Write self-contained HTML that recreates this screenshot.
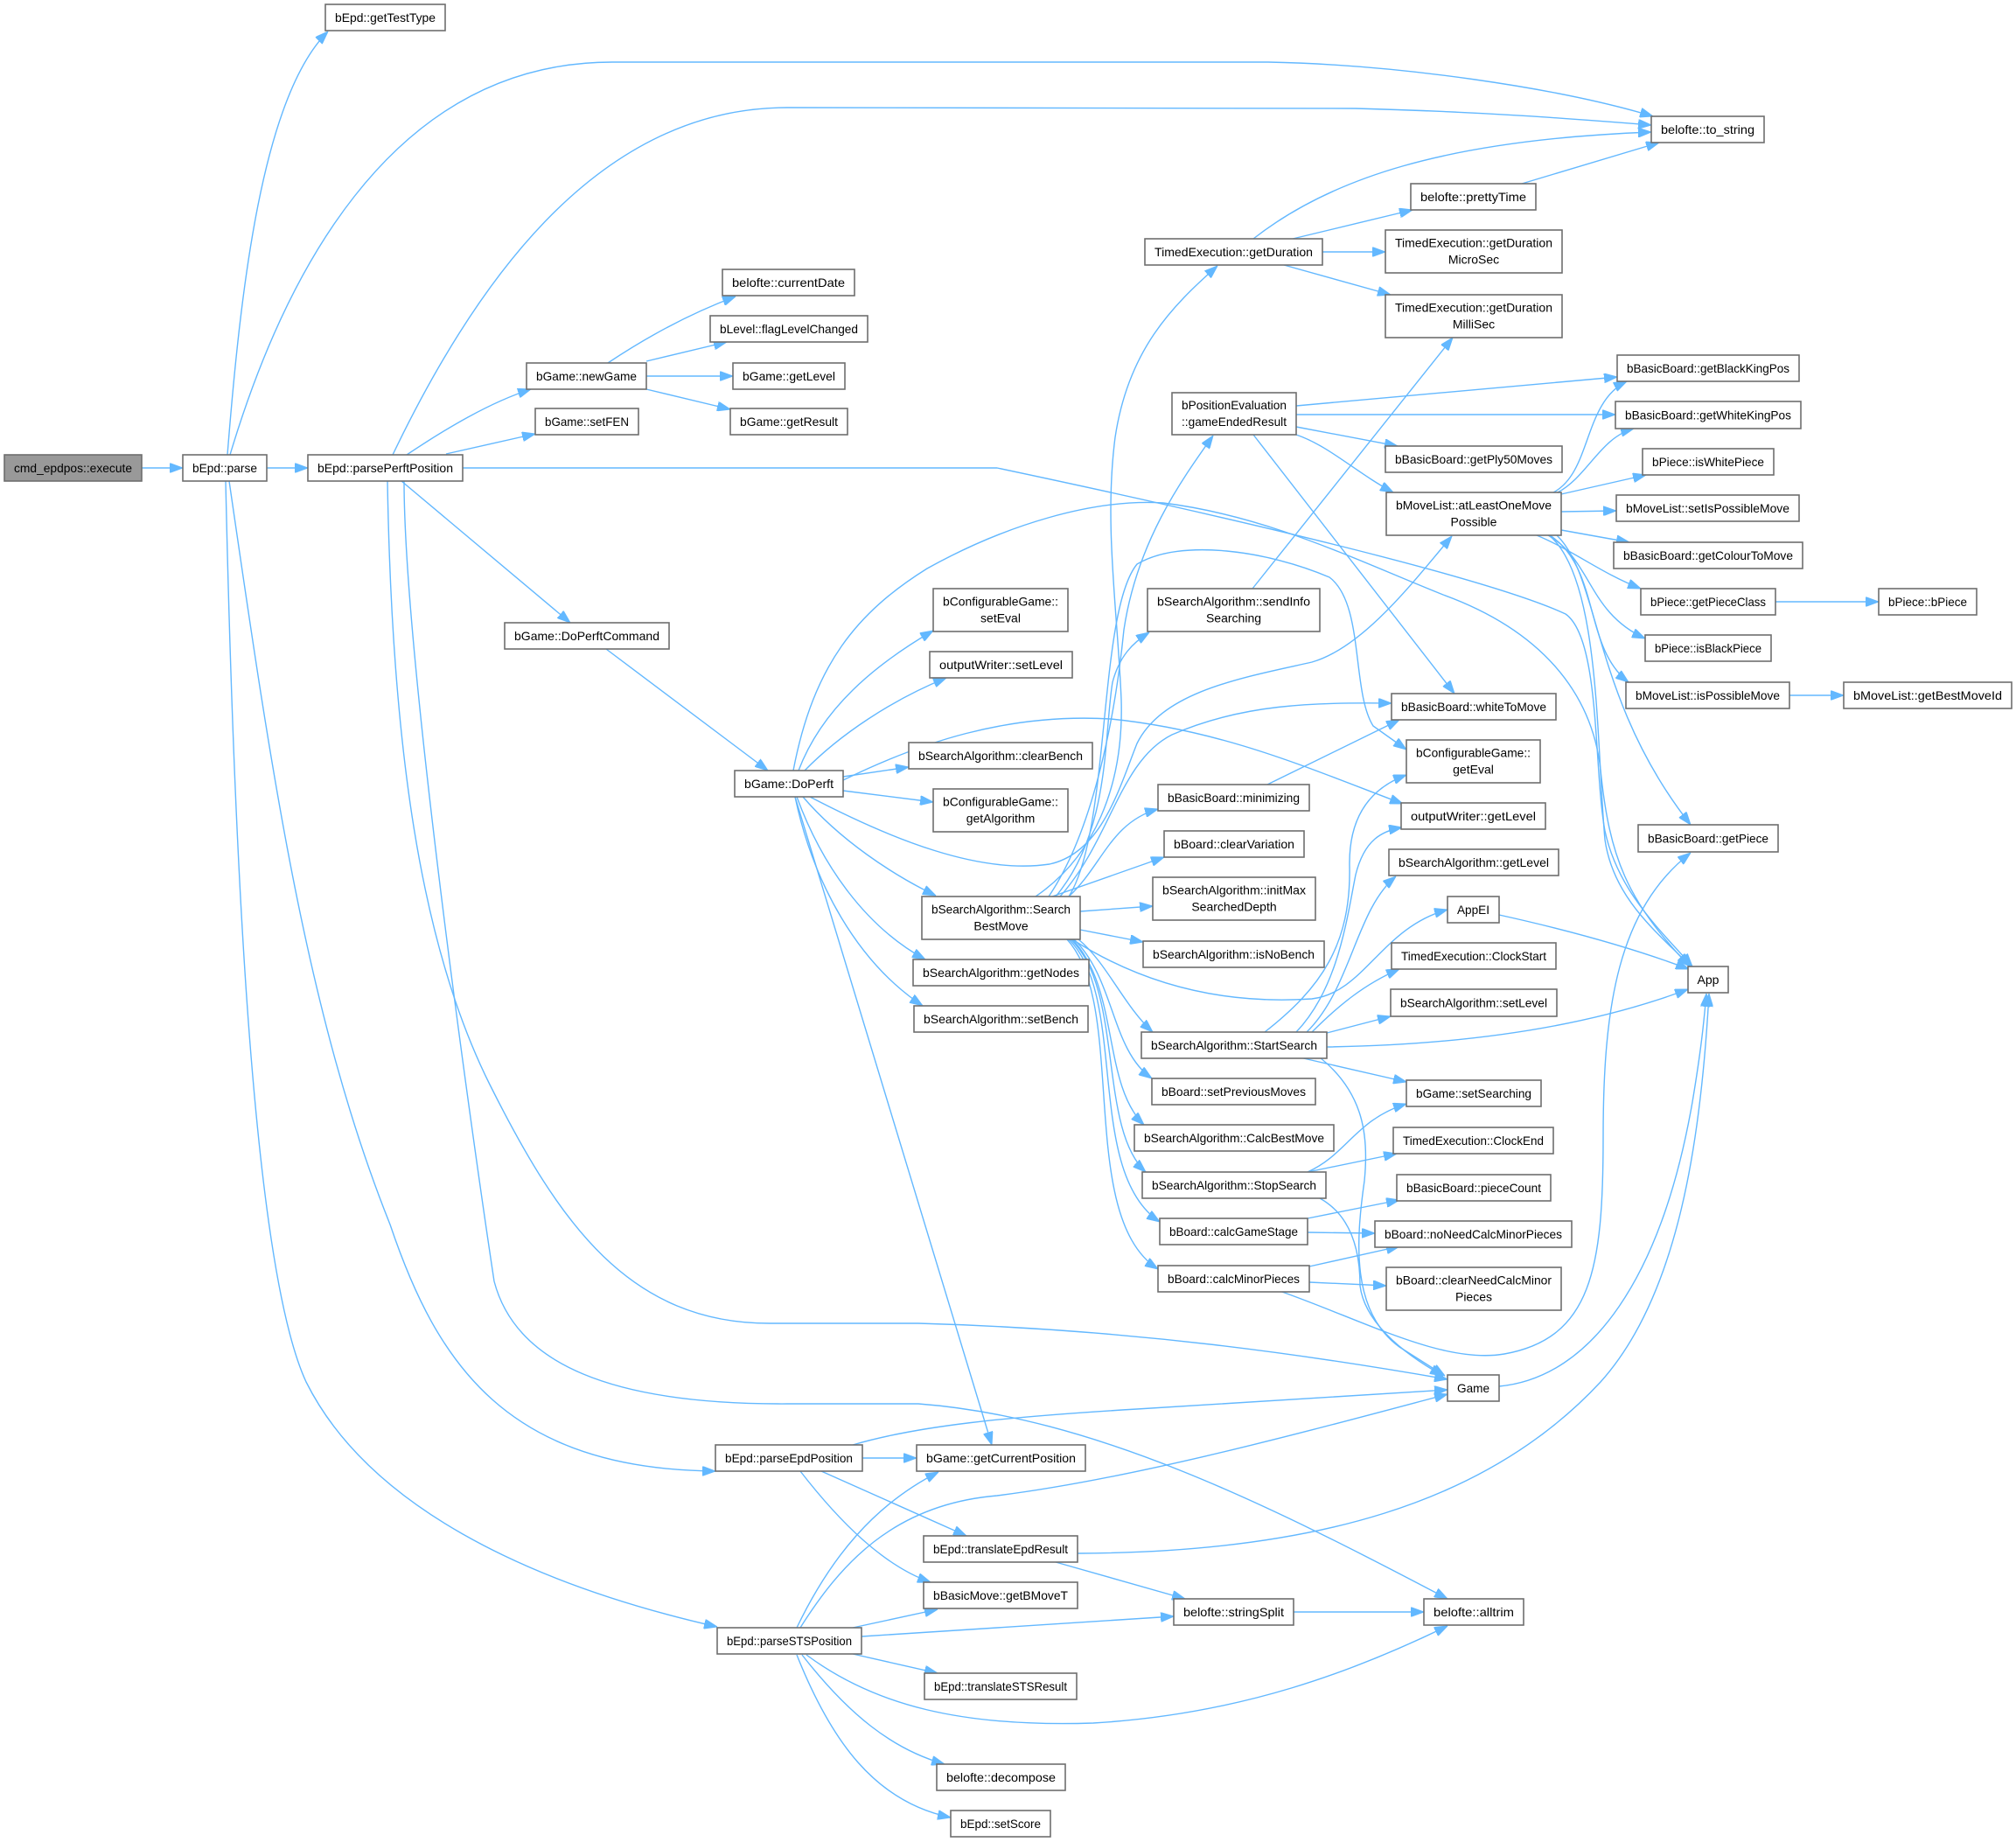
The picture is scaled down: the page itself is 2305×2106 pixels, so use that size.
<!DOCTYPE html>
<html><head><meta charset="utf-8"><style>
html,body{margin:0;padding:0;background:#fff;}
svg{display:block;}
.n rect{fill:#fff;stroke:#6e6e6e;stroke-width:1.6;}
.n text{font-family:"Liberation Sans",sans-serif;font-size:14px;fill:#000;text-anchor:middle;}
.e path{fill:none;stroke:#63b8ff;stroke-width:1.4;}
</style></head><body>
<svg width="2305" height="2106" viewBox="0 0 2305 2106" xmlns="http://www.w3.org/2000/svg">
<defs><marker id="a" viewBox="0 0 15 11" refX="15" refY="5.5" markerWidth="15" markerHeight="11" markerUnits="userSpaceOnUse" orient="auto"><path d="M0,0L15,5.5L0,11z" fill="#63b8ff" stroke="#63b8ff" stroke-width="1"/></marker></defs>
<rect width="2305" height="2106" fill="#fff"/>
<g class="e" marker-end="url(#a)">
<path marker-end="url(#a)" d="M162,535 L209,535"/>
<path marker-end="url(#a)" d="M260,520 C275,330 300,110 375,36"/>
<path marker-end="url(#a)" d="M263,520 C320,330 440,71 700,71 L1450,71 C1600,74 1780,100 1890,133"/>
<path marker-end="url(#a)" d="M305,535 L352,535"/>
<path marker-end="url(#a)" d="M262,550 C310,880 350,1160 446,1400 C500,1560 580,1680 818,1682"/>
<path marker-end="url(#a)" d="M258,550 C268,1000 290,1450 350,1580 C420,1720 600,1810 820,1860"/>
<path marker-end="url(#a)" d="M449,520 C540,330 680,123 900,123 L1550,124 C1700,128 1800,136 1888,143"/>
<path marker-end="url(#a)" d="M465,520 C510,490 560,460 607,445"/>
<path marker-end="url(#a)" d="M510,519 L612,496"/>
<path marker-end="url(#a)" d="M529,535 L1140,535 C1400,590 1700,660 1790,702 C1830,730 1822,880 1835,950 C1850,1020 1900,1065 1935,1105"/>
<path marker-end="url(#a)" d="M459,550 L652,712"/>
<path marker-end="url(#a)" d="M443,550 C448,850 480,1080 560,1240 C640,1400 720,1513 880,1513 L1050,1513 C1300,1520 1500,1550 1655,1577"/>
<path marker-end="url(#a)" d="M462,550 C462,750 540,1300 565,1465 C590,1560 700,1606 900,1605 L1050,1605 C1250,1620 1450,1720 1655,1828"/>
<path marker-end="url(#a)" d="M695,415 C740,385 790,358 841,339"/>
<path marker-end="url(#a)" d="M739,413 L831,391"/>
<path marker-end="url(#a)" d="M739,430 L838,430"/>
<path marker-end="url(#a)" d="M739,445 L835,468"/>
<path marker-end="url(#a)" d="M693,742 L878,881"/>
<path marker-end="url(#a)" d="M907,881 C930,760 980,700 1060,650 C1150,600 1250,570 1330,575 C1450,590 1550,640 1650,680 C1760,720 1820,790 1830,880 C1840,980 1860,1030 1932,1105"/>
<path marker-end="url(#a)" d="M913,881 C940,810 1000,760 1067,721"/>
<path marker-end="url(#a)" d="M920,881 C960,840 1020,800 1082,775"/>
<path marker-end="url(#a)" d="M964,888 L1039,877"/>
<path marker-end="url(#a)" d="M964,904 L1067,917"/>
<path marker-end="url(#a)" d="M964,892 C1050,850 1150,815 1270,822 C1400,835 1500,880 1604,919"/>
<path marker-end="url(#a)" d="M926,911 C1020,960 1120,1000 1200,988 C1260,975 1280,900 1300,850 C1330,790 1420,775 1500,757 C1560,740 1620,660 1660,613"/>
<path marker-end="url(#a)" d="M918,911 C960,960 1020,1000 1070,1024"/>
<path marker-end="url(#a)" d="M911,911 C940,990 990,1060 1058,1097"/>
<path marker-end="url(#a)" d="M909,911 C930,1010 980,1100 1055,1150"/>
<path marker-end="url(#a)" d="M909,911 L1134,1652"/>
<path marker-end="url(#a)" d="M1433,273 C1520,205 1650,160 1888,151"/>
<path marker-end="url(#a)" d="M1740,210 L1897,163"/>
<path marker-end="url(#a)" d="M1478,273 L1615,240"/>
<path marker-end="url(#a)" d="M1512,288 L1584,288"/>
<path marker-end="url(#a)" d="M1468,303 L1590,337"/>
<path marker-end="url(#a)" d="M1432,673 L1661,386"/>
<path marker-end="url(#a)" d="M1482,464 L1849,431"/>
<path marker-end="url(#a)" d="M1482,474 L1847,474"/>
<path marker-end="url(#a)" d="M1482,488 L1598,510"/>
<path marker-end="url(#a)" d="M1482,497 C1520,510 1550,540 1593,563"/>
<path marker-end="url(#a)" d="M1433,497 L1663,793"/>
<path marker-end="url(#a)" d="M1776,563 C1820,540 1810,460 1860,436"/>
<path marker-end="url(#a)" d="M1781,563 C1815,545 1830,500 1868,490"/>
<path marker-end="url(#a)" d="M1785,565 L1882,543"/>
<path marker-end="url(#a)" d="M1785,585 L1848,584"/>
<path marker-end="url(#a)" d="M1785,606 L1863,620"/>
<path marker-end="url(#a)" d="M1757,612 C1800,630 1830,655 1876,673"/>
<path marker-end="url(#a)" d="M1770,612 C1820,640 1815,700 1881,730"/>
<path marker-end="url(#a)" d="M1772,612 C1830,650 1810,740 1862,780"/>
<path marker-end="url(#a)" d="M1780,612 C1830,660 1820,800 1933,943"/>
<path marker-end="url(#a)" d="M1771,612 C1830,660 1825,850 1835,960 C1845,1030 1900,1070 1933,1105"/>
<path marker-end="url(#a)" d="M2030,688 L2148,688"/>
<path marker-end="url(#a)" d="M2046,795 L2108,795"/>
<path marker-end="url(#a)" d="M1714,1046 C1800,1065 1870,1085 1931,1108"/>
<path marker-end="url(#a)" d="M1714,1585 C1820,1575 1900,1460 1935,1260 C1945,1200 1948,1170 1951,1136"/>
<path marker-end="url(#a)" d="M1232,1776 C1500,1775 1700,1720 1830,1580 C1920,1480 1945,1300 1954,1136"/>
<path marker-end="url(#a)" d="M1517,1197 C1650,1195 1800,1180 1930,1131"/>
<path marker-end="url(#a)" d="M1509,1209 C1560,1250 1565,1300 1560,1350 C1550,1420 1545,1500 1600,1540 L1652,1573"/>
<path marker-end="url(#a)" d="M1509,1370 C1545,1390 1555,1430 1555,1470 C1560,1510 1600,1545 1650,1573"/>
<path marker-end="url(#a)" d="M975,1652 C1050,1630 1150,1620 1300,1611 L1655,1589"/>
<path marker-end="url(#a)" d="M915,1861 C960,1790 1020,1720 1140,1710 C1300,1690 1500,1635 1655,1594"/>
<path marker-end="url(#a)" d="M986,1667 L1048,1667"/>
<path marker-end="url(#a)" d="M939,1682 L1105,1756"/>
<path marker-end="url(#a)" d="M915,1682 C960,1740 1010,1790 1064,1809"/>
<path marker-end="url(#a)" d="M911,1861 C950,1780 1000,1720 1073,1683"/>
<path marker-end="url(#a)" d="M975,1861 L1072,1840"/>
<path marker-end="url(#a)" d="M985,1871 L1342,1848"/>
<path marker-end="url(#a)" d="M975,1891 L1072,1913"/>
<path marker-end="url(#a)" d="M922,1892 C1000,1950 1100,1975 1250,1970 C1420,1960 1550,1910 1655,1859"/>
<path marker-end="url(#a)" d="M917,1892 C970,1960 1020,2000 1080,2017"/>
<path marker-end="url(#a)" d="M911,1892 C950,1990 1000,2060 1087,2078"/>
<path marker-end="url(#a)" d="M1207,1786 L1355,1828"/>
<path marker-end="url(#a)" d="M1479,1843 L1628,1843"/>
<path marker-end="url(#a)" d="M1184,1025 C1250,980 1285,900 1282,800 C1278,700 1262,600 1275,500 C1290,400 1340,350 1392,304"/>
<path marker-end="url(#a)" d="M1199,1025 C1250,950 1275,820 1285,720 C1300,620 1350,550 1387,498"/>
<path marker-end="url(#a)" d="M1207,1025 C1270,950 1262,840 1272,780 C1280,750 1295,735 1314,723"/>
<path marker-end="url(#a)" d="M1222,1025 C1270,950 1255,700 1300,645 C1350,615 1450,630 1520,660 C1560,690 1545,790 1570,830 L1608,857"/>
<path marker-end="url(#a)" d="M1212,1025 C1270,960 1280,870 1340,840 C1420,805 1500,803 1591,804"/>
<path marker-end="url(#a)" d="M1222,1025 C1260,990 1270,940 1324,925"/>
<path marker-end="url(#a)" d="M1203,1025 L1331,980"/>
<path marker-end="url(#a)" d="M1235,1042 L1318,1036"/>
<path marker-end="url(#a)" d="M1235,1063 L1307,1077"/>
<path marker-end="url(#a)" d="M1226,1074 C1290,1115 1380,1150 1500,1142 C1560,1135 1580,1060 1655,1040"/>
<path marker-end="url(#a)" d="M1233,1074 C1265,1100 1285,1150 1318,1180"/>
<path marker-end="url(#a)" d="M1228,1074 C1275,1120 1270,1200 1317,1233"/>
<path marker-end="url(#a)" d="M1226,1074 C1280,1130 1260,1240 1308,1286"/>
<path marker-end="url(#a)" d="M1224,1074 C1285,1130 1255,1290 1310,1340"/>
<path marker-end="url(#a)" d="M1222,1074 C1290,1140 1240,1340 1326,1397"/>
<path marker-end="url(#a)" d="M1220,1074 C1290,1150 1230,1390 1324,1451"/>
<path marker-end="url(#a)" d="M1449,897 L1600,823"/>
<path marker-end="url(#a)" d="M1446,1180 C1510,1130 1545,1080 1543,990 C1542,930 1570,900 1608,886"/>
<path marker-end="url(#a)" d="M1482,1180 C1530,1130 1540,1050 1550,1000 C1560,960 1580,950 1603,946"/>
<path marker-end="url(#a)" d="M1494,1180 C1545,1130 1550,1040 1596,1002"/>
<path marker-end="url(#a)" d="M1500,1180 C1530,1150 1560,1125 1600,1108"/>
<path marker-end="url(#a)" d="M1517,1181 L1590,1162"/>
<path marker-end="url(#a)" d="M1486,1209 L1608,1237"/>
<path marker-end="url(#a)" d="M1495,1340 C1540,1320 1550,1280 1608,1262"/>
<path marker-end="url(#a)" d="M1495,1340 L1597,1319"/>
<path marker-end="url(#a)" d="M1495,1393 L1600,1372"/>
<path marker-end="url(#a)" d="M1495,1409 L1572,1410"/>
<path marker-end="url(#a)" d="M1497,1448 L1600,1425"/>
<path marker-end="url(#a)" d="M1497,1466 L1585,1470"/>
<path marker-end="url(#a)" d="M1463,1476 C1560,1510 1650,1560 1720,1548 C1820,1530 1833,1450 1833,1300 C1833,1150 1850,1040 1933,975"/>
</g>
<g class="n">
<rect x="5" y="520" width="157" height="30" style="fill:#999999"/><text x="83.5" y="540" textLength="135" lengthAdjust="spacingAndGlyphs">cmd_epdpos::execute</text>
<rect x="209" y="520" width="96" height="30"/><text x="257" y="540" textLength="74" lengthAdjust="spacingAndGlyphs">bEpd::parse</text>
<rect x="352" y="520" width="177" height="30"/><text x="440.5" y="540" textLength="155" lengthAdjust="spacingAndGlyphs">bEpd::parsePerftPosition</text>
<rect x="372" y="5" width="137" height="30"/><text x="440.5" y="25" textLength="115" lengthAdjust="spacingAndGlyphs">bEpd::getTestType</text>
<rect x="1888" y="133" width="129" height="30"/><text x="1952.5" y="153" textLength="107" lengthAdjust="spacingAndGlyphs">belofte::to_string</text>
<rect x="826" y="308" width="151" height="30"/><text x="901.5" y="328" textLength="129" lengthAdjust="spacingAndGlyphs">belofte::currentDate</text>
<rect x="812" y="361" width="180" height="30"/><text x="902" y="381" textLength="158" lengthAdjust="spacingAndGlyphs">bLevel::flagLevelChanged</text>
<rect x="602" y="415" width="137" height="30"/><text x="670.5" y="435" textLength="115" lengthAdjust="spacingAndGlyphs">bGame::newGame</text>
<rect x="838" y="415" width="128" height="30"/><text x="902" y="435" textLength="106" lengthAdjust="spacingAndGlyphs">bGame::getLevel</text>
<rect x="835" y="467" width="134" height="30"/><text x="902" y="487" textLength="112" lengthAdjust="spacingAndGlyphs">bGame::getResult</text>
<rect x="612" y="467" width="118" height="30"/><text x="671" y="487" textLength="96" lengthAdjust="spacingAndGlyphs">bGame::setFEN</text>
<rect x="577" y="712" width="188" height="30"/><text x="671" y="732" textLength="166" lengthAdjust="spacingAndGlyphs">bGame::DoPerftCommand</text>
<rect x="840" y="881" width="124" height="30"/><text x="902" y="901" textLength="102" lengthAdjust="spacingAndGlyphs">bGame::DoPerft</text>
<rect x="1309" y="273" width="203" height="30"/><text x="1410.5" y="293" textLength="181" lengthAdjust="spacingAndGlyphs">TimedExecution::getDuration</text>
<rect x="1613" y="210" width="143" height="30"/><text x="1684.5" y="230" textLength="121" lengthAdjust="spacingAndGlyphs">belofte::prettyTime</text>
<rect x="1584" y="263" width="202" height="49"/><text x="1685" y="282.5" textLength="180" lengthAdjust="spacingAndGlyphs">TimedExecution::getDuration</text><text x="1685" y="301.5">MicroSec</text>
<rect x="1584" y="337" width="202" height="49"/><text x="1685" y="356.5" textLength="180" lengthAdjust="spacingAndGlyphs">TimedExecution::getDuration</text><text x="1685" y="375.5">MilliSec</text>
<rect x="1340" y="449" width="142" height="48"/><text x="1411" y="468" textLength="120" lengthAdjust="spacingAndGlyphs">bPositionEvaluation</text><text x="1411" y="487" textLength="120" lengthAdjust="spacingAndGlyphs">::gameEndedResult</text>
<rect x="1849" y="406" width="208" height="30"/><text x="1953" y="426" textLength="186" lengthAdjust="spacingAndGlyphs">bBasicBoard::getBlackKingPos</text>
<rect x="1847" y="459" width="212" height="31"/><text x="1953" y="479.5" textLength="190" lengthAdjust="spacingAndGlyphs">bBasicBoard::getWhiteKingPos</text>
<rect x="1584" y="510" width="202" height="30"/><text x="1685" y="530" textLength="180" lengthAdjust="spacingAndGlyphs">bBasicBoard::getPly50Moves</text>
<rect x="1585" y="563" width="200" height="49"/><text x="1685" y="582.5" textLength="178" lengthAdjust="spacingAndGlyphs">bMoveList::atLeastOneMove</text><text x="1685" y="601.5">Possible</text>
<rect x="1878" y="513" width="150" height="30"/><text x="1953" y="533" textLength="128" lengthAdjust="spacingAndGlyphs">bPiece::isWhitePiece</text>
<rect x="1848" y="566" width="209" height="30"/><text x="1952.5" y="586" textLength="187" lengthAdjust="spacingAndGlyphs">bMoveList::setIsPossibleMove</text>
<rect x="1845" y="620" width="216" height="30"/><text x="1953" y="640" textLength="194" lengthAdjust="spacingAndGlyphs">bBasicBoard::getColourToMove</text>
<rect x="1876" y="673" width="154" height="30"/><text x="1953" y="693" textLength="132" lengthAdjust="spacingAndGlyphs">bPiece::getPieceClass</text>
<rect x="2148" y="673" width="112" height="30"/><text x="2204" y="693" textLength="90" lengthAdjust="spacingAndGlyphs">bPiece::bPiece</text>
<rect x="1881" y="726" width="144" height="30"/><text x="1953" y="746" textLength="122" lengthAdjust="spacingAndGlyphs">bPiece::isBlackPiece</text>
<rect x="1859" y="780" width="187" height="30"/><text x="1952.5" y="800" textLength="165" lengthAdjust="spacingAndGlyphs">bMoveList::isPossibleMove</text>
<rect x="2108" y="780" width="192" height="30"/><text x="2204" y="800" textLength="170" lengthAdjust="spacingAndGlyphs">bMoveList::getBestMoveId</text>
<rect x="1873" y="943" width="160" height="31"/><text x="1953" y="963.5" textLength="138" lengthAdjust="spacingAndGlyphs">bBasicBoard::getPiece</text>
<rect x="1930" y="1105" width="46" height="30"/><text x="1953" y="1125" textLength="25" lengthAdjust="spacingAndGlyphs">App</text>
<rect x="1067" y="673" width="154" height="49"/><text x="1144" y="692.5" textLength="132" lengthAdjust="spacingAndGlyphs">bConfigurableGame::</text><text x="1144" y="711.5">setEval</text>
<rect x="1312" y="673" width="197" height="49"/><text x="1410.5" y="692.5" textLength="175" lengthAdjust="spacingAndGlyphs">bSearchAlgorithm::sendInfo</text><text x="1410.5" y="711.5">Searching</text>
<rect x="1063" y="745" width="163" height="30"/><text x="1144.5" y="765" textLength="141" lengthAdjust="spacingAndGlyphs">outputWriter::setLevel</text>
<rect x="1591" y="793" width="188" height="30"/><text x="1685" y="813" textLength="166" lengthAdjust="spacingAndGlyphs">bBasicBoard::whiteToMove</text>
<rect x="1039" y="849" width="210" height="30"/><text x="1144" y="869" textLength="188" lengthAdjust="spacingAndGlyphs">bSearchAlgorithm::clearBench</text>
<rect x="1067" y="902" width="154" height="49"/><text x="1144" y="921.5" textLength="132" lengthAdjust="spacingAndGlyphs">bConfigurableGame::</text><text x="1144" y="940.5">getAlgorithm</text>
<rect x="1608" y="846" width="153" height="49"/><text x="1684.5" y="865.5" textLength="131" lengthAdjust="spacingAndGlyphs">bConfigurableGame::</text><text x="1684.5" y="884.5">getEval</text>
<rect x="1324" y="897" width="173" height="30"/><text x="1410.5" y="917" textLength="151" lengthAdjust="spacingAndGlyphs">bBasicBoard::minimizing</text>
<rect x="1602" y="918" width="165" height="30"/><text x="1684.5" y="938" textLength="143" lengthAdjust="spacingAndGlyphs">outputWriter::getLevel</text>
<rect x="1331" y="950" width="160" height="30"/><text x="1411" y="970" textLength="138" lengthAdjust="spacingAndGlyphs">bBoard::clearVariation</text>
<rect x="1588" y="971" width="194" height="30"/><text x="1685" y="991" textLength="172" lengthAdjust="spacingAndGlyphs">bSearchAlgorithm::getLevel</text>
<rect x="1318" y="1003" width="186" height="49"/><text x="1411" y="1022.5" textLength="164" lengthAdjust="spacingAndGlyphs">bSearchAlgorithm::initMax</text><text x="1411" y="1041.5">SearchedDepth</text>
<rect x="1054" y="1025" width="181" height="49"/><text x="1144.5" y="1044.5" textLength="159" lengthAdjust="spacingAndGlyphs">bSearchAlgorithm::Search</text><text x="1144.5" y="1063.5">BestMove</text>
<rect x="1655" y="1025" width="59" height="30"/><text x="1684.5" y="1045" textLength="37" lengthAdjust="spacingAndGlyphs">AppEI</text>
<rect x="1307" y="1076" width="207" height="30"/><text x="1410.5" y="1096" textLength="185" lengthAdjust="spacingAndGlyphs">bSearchAlgorithm::isNoBench</text>
<rect x="1591" y="1078" width="188" height="30"/><text x="1685" y="1098" textLength="166" lengthAdjust="spacingAndGlyphs">TimedExecution::ClockStart</text>
<rect x="1044" y="1097" width="201" height="30"/><text x="1144.5" y="1117" textLength="179" lengthAdjust="spacingAndGlyphs">bSearchAlgorithm::getNodes</text>
<rect x="1590" y="1131" width="190" height="31"/><text x="1685" y="1151.5" textLength="168" lengthAdjust="spacingAndGlyphs">bSearchAlgorithm::setLevel</text>
<rect x="1045" y="1150" width="199" height="30"/><text x="1144.5" y="1170" textLength="177" lengthAdjust="spacingAndGlyphs">bSearchAlgorithm::setBench</text>
<rect x="1305" y="1180" width="212" height="30"/><text x="1411" y="1200" textLength="190" lengthAdjust="spacingAndGlyphs">bSearchAlgorithm::StartSearch</text>
<rect x="1317" y="1233" width="187" height="30"/><text x="1410.5" y="1253" textLength="165" lengthAdjust="spacingAndGlyphs">bBoard::setPreviousMoves</text>
<rect x="1608" y="1235" width="154" height="30"/><text x="1685" y="1255" textLength="132" lengthAdjust="spacingAndGlyphs">bGame::setSearching</text>
<rect x="1297" y="1286" width="228" height="30"/><text x="1411" y="1306" textLength="206" lengthAdjust="spacingAndGlyphs">bSearchAlgorithm::CalcBestMove</text>
<rect x="1593" y="1289" width="183" height="30"/><text x="1684.5" y="1309" textLength="161" lengthAdjust="spacingAndGlyphs">TimedExecution::ClockEnd</text>
<rect x="1306" y="1340" width="210" height="30"/><text x="1411" y="1360" textLength="188" lengthAdjust="spacingAndGlyphs">bSearchAlgorithm::StopSearch</text>
<rect x="1597" y="1343" width="176" height="30"/><text x="1685" y="1363" textLength="154" lengthAdjust="spacingAndGlyphs">bBasicBoard::pieceCount</text>
<rect x="1326" y="1393" width="169" height="30"/><text x="1410.5" y="1413" textLength="147" lengthAdjust="spacingAndGlyphs">bBoard::calcGameStage</text>
<rect x="1572" y="1396" width="225" height="30"/><text x="1684.5" y="1416" textLength="203" lengthAdjust="spacingAndGlyphs">bBoard::noNeedCalcMinorPieces</text>
<rect x="1324" y="1447" width="173" height="30"/><text x="1410.5" y="1467" textLength="151" lengthAdjust="spacingAndGlyphs">bBoard::calcMinorPieces</text>
<rect x="1585" y="1449" width="200" height="49"/><text x="1685" y="1468.5" textLength="178" lengthAdjust="spacingAndGlyphs">bBoard::clearNeedCalcMinor</text><text x="1685" y="1487.5">Pieces</text>
<rect x="1655" y="1572" width="59" height="30"/><text x="1684.5" y="1592" textLength="37" lengthAdjust="spacingAndGlyphs">Game</text>
<rect x="1048" y="1652" width="193" height="30"/><text x="1144.5" y="1672" textLength="171" lengthAdjust="spacingAndGlyphs">bGame::getCurrentPosition</text>
<rect x="818" y="1652" width="168" height="30"/><text x="902" y="1672" textLength="146" lengthAdjust="spacingAndGlyphs">bEpd::parseEpdPosition</text>
<rect x="1056" y="1756" width="176" height="30"/><text x="1144" y="1776" textLength="154" lengthAdjust="spacingAndGlyphs">bEpd::translateEpdResult</text>
<rect x="1056" y="1809" width="176" height="30"/><text x="1144" y="1829" textLength="154" lengthAdjust="spacingAndGlyphs">bBasicMove::getBMoveT</text>
<rect x="1342" y="1828" width="137" height="30"/><text x="1410.5" y="1848" textLength="115" lengthAdjust="spacingAndGlyphs">belofte::stringSplit</text>
<rect x="1628" y="1828" width="114" height="30"/><text x="1685" y="1848" textLength="92" lengthAdjust="spacingAndGlyphs">belofte::alltrim</text>
<rect x="820" y="1861" width="165" height="30"/><text x="902.5" y="1881" textLength="143" lengthAdjust="spacingAndGlyphs">bEpd::parseSTSPosition</text>
<rect x="1057" y="1913" width="174" height="30"/><text x="1144" y="1933" textLength="152" lengthAdjust="spacingAndGlyphs">bEpd::translateSTSResult</text>
<rect x="1071" y="2017" width="147" height="30"/><text x="1144.5" y="2037" textLength="125" lengthAdjust="spacingAndGlyphs">belofte::decompose</text>
<rect x="1087" y="2070" width="114" height="30"/><text x="1144" y="2090" textLength="92" lengthAdjust="spacingAndGlyphs">bEpd::setScore</text>
</g>
</svg>
</body></html>
